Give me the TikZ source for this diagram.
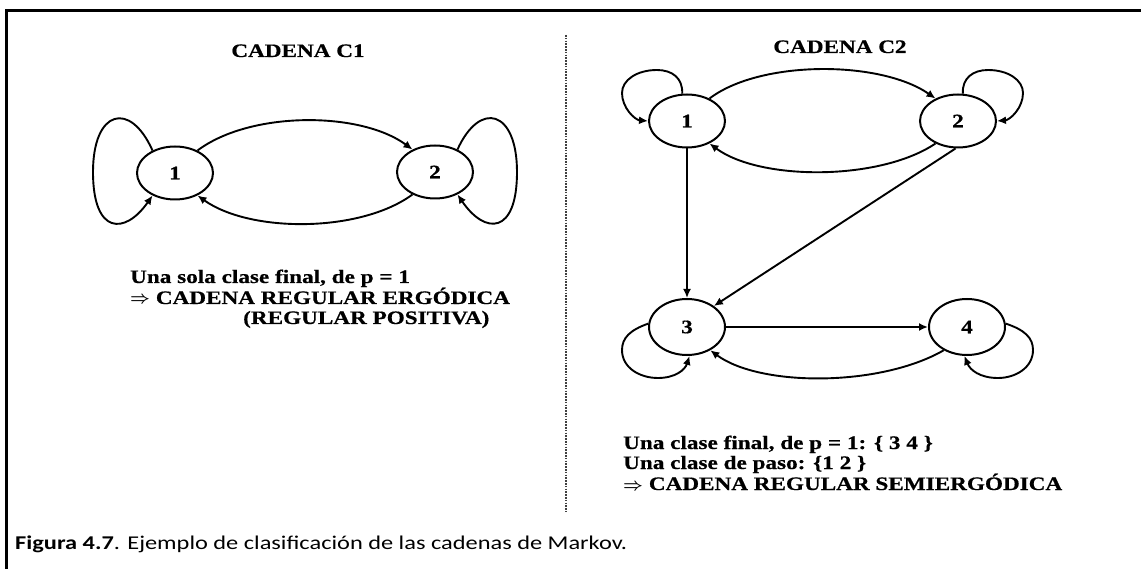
\documentclass[tikz,border=0pt]{standalone}
\usepackage{fontspec}
\usetikzlibrary{shapes.geometric,arrows.meta}
\newfontfamily\tfont[FakeStretch=1.22,FakeBold=0.6]{Liberation Serif}
\newfontfamily\capfont[FakeStretch=1.25]{Carlito}
\newcommand{\impl}{{\boldmath$\Rightarrow$}}
\begin{document}
\begin{tikzpicture}[x=1pt,y=-1pt,
 st/.style={ellipse,draw,line width=2pt,minimum width=76pt,minimum height=53pt,inner sep=0pt,font=\tfont\bfseries\fontsize{19}{20}\selectfont},
 arr/.style={line width=1.9pt,-{Latex[length=9pt,width=8pt]}},
 thk/.style={arr,line width=2.6pt},
 lbl/.style={anchor=base west,inner sep=0pt,font=\tfont\bfseries\fontsize{19}{20}\selectfont},
 ttl/.style={anchor=base,inner sep=0pt,font=\tfont\bfseries\fontsize{19}{20}\selectfont},
]
\useasboundingbox (0,0) rectangle (1141,569);
\fill[white] (0,0) rectangle (1141,569);
% frame
\draw[line width=3pt] (6.5,569) -- (6.5,10.5) -- (1141,10.5);
% divider
\draw[gray!50!black,line width=2pt,dash pattern=on 1.6pt off 1.2pt] (566,35) -- (566,512);

% ---------- CADENA C1 ----------
\node[ttl] (t1) at (298,57) {CADENA C1};
\node[st] (a) at (175,173) {1};
\node[st] (b) at (435,172) {2};
\draw[arr] (a.135) .. controls (130,100) and (93,110) .. (93,172)
  .. controls (93,235) and (125,235) .. (a.225);
\draw[arr] (b.45) .. controls (480,100) and (517,110) .. (517,172)
  .. controls (517,235) and (485,235) .. (b.-45);
\draw[arr] (a.45) .. controls (250,111) and (360,111) .. (b.135);
\draw[arr] (b.-135) .. controls (360,233) and (250,233) .. (a.-45);
\node[lbl] (c1l1) at (130,283) {Una sola clase final, de p = 1};
\node[lbl] (c1l2) at (130,304) {\impl{} CADENA REGULAR ERGÓDICA};
\node[lbl] (c1l3) at (243,324) {(REGULAR POSITIVA)};

% ---------- CADENA C2 ----------
\node[ttl] (t2) at (840,53) {CADENA C2};
\node[st] (n1) at (687,121) {1};
\node[st] (n2) at (958,121) {2};
\node[st,minimum height=56pt] (n3) at (687,327) {3};
\node[st,minimum height=56pt] (n4) at (967,327) {4};
% loops
\draw[arr] (n1.100) .. controls (683,78) and (672,70) .. (657,70)
  .. controls (637,70) and (622,80) .. (622,93)
  .. controls (622,108) and (635,120) .. (n1.west);
\draw[arr] (n2.80) .. controls (962,78) and (973,70) .. (988,70)
  .. controls (1008,70) and (1023,80) .. (1023,93)
  .. controls (1023,108) and (1010,120) .. (n2.east);
\draw[arr] (n3.175) .. controls (630,330) and (622,338) .. (622,350)
  .. controls (622,368) and (640,378) .. (658,378)
  .. controls (675,378) and (685,370) .. (n3.-85);
\draw[arr] (n4.5) .. controls (1025,330) and (1033,338) .. (1033,350)
  .. controls (1033,368) and (1015,378) .. (998,378)
  .. controls (980,378) and (970,370) .. (n4.-95);
% edges
\draw[arr] (n1.45) .. controls (760,60) and (880,60) .. (n2.135);
\draw[arr] (n2.-135) .. controls (880,181) and (760,181) .. (n1.-45);
\draw[thk] (n1.south) -- (n3.north);
\draw[arr] (n2.-95) -- (n3.38);
\draw[thk] (n3.east) -- (n4.west);
\draw[arr] (n4.-135) .. controls (880,387) and (760,387) .. (n3.-45);
\node[lbl] (c2l1) at (623,449) {Una clase final, de p = 1: \{ 3 4 \}};
\node[lbl] (c2l2) at (623,469) {Una clase de paso: \{1 2 \}};
\node[lbl] (c2l3) at (623,490) {\impl{} CADENA REGULAR SEMIERGÓDICA};

% caption
\node[anchor=base west,inner sep=0pt,font=\capfont\fontsize{19.5}{20}\selectfont] (cap) at (15,549)
  {\textbf{Figura 4.7}. Ejemplo de clasificación de las cadenas de Markov.};
\end{tikzpicture}
\end{document}
